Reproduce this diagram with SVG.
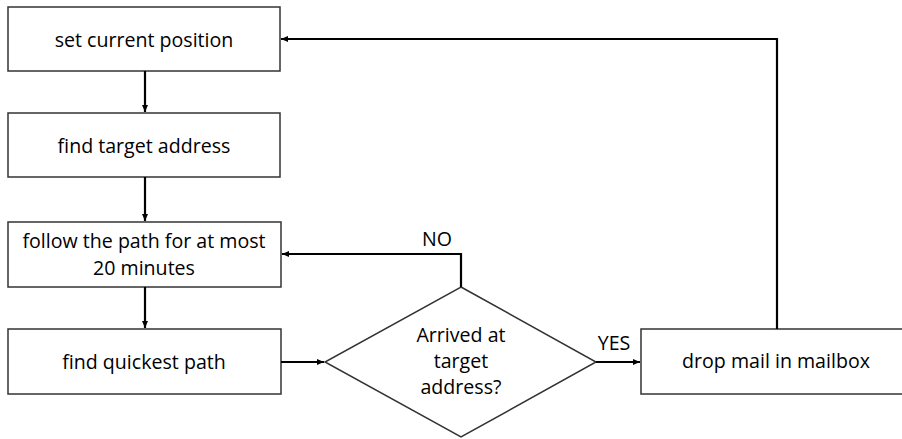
<svg xmlns="http://www.w3.org/2000/svg" width="902" height="439" viewBox="0 0 902 439">
<style>
.box{fill:#fff;stroke:#333;stroke-width:1.5}
.t{font-family:"Open Sans","Liberation Sans",sans-serif;font-size:19.6px;fill:#000;text-anchor:middle}
.c{fill:none;stroke:#000;stroke-width:2.2}
</style>
<defs>
<marker id="ah" markerWidth="8" markerHeight="8" refX="7" refY="4" orient="auto" markerUnits="userSpaceOnUse">
<path d="M0,1 L7,4 L0,7 Z" fill="#000"/>
</marker>
</defs>
<rect width="902" height="439" fill="#fff"/>
<g id="n1"><rect class="box" x="8" y="7" width="272" height="64"/><text class="t" x="144" y="47">set current position</text></g>
<g id="n2"><rect class="box" x="8" y="113" width="272" height="64"/><text class="t" x="144" y="153">find target address</text></g>
<g id="n3"><rect class="box" x="8" y="222" width="273" height="65"/><text class="t" x="144" y="248">follow the path for at most</text><text class="t" x="144" y="275">20 minutes</text></g>
<g id="n4"><rect class="box" x="8" y="329" width="273" height="65"/><text class="t" x="144" y="369">find quickest path</text></g>
<g id="n5"><path class="box" d="M461,287 L596,362 L461,437 L325,362 Z"/><text class="t" x="461" y="342">Arrived at</text><text class="t" x="461" y="368">target</text><text class="t" x="461" y="394">address?</text></g>
<g id="n6"><rect class="box" x="641" y="329" width="262" height="65"/><text class="t" x="776" y="368">drop mail in mailbox</text></g>
<g id="connectors">
<path class="c" d="M145,71 V112" marker-end="url(#ah)"/>
<path class="c" d="M145,177 V221" marker-end="url(#ah)"/>
<path class="c" d="M145,287 V328" marker-end="url(#ah)"/>
<path class="c" d="M281,362 H324" marker-end="url(#ah)"/>
<path class="c" d="M461,287 V254 H282" marker-end="url(#ah)"/>
<path class="c" d="M596,362 H640" marker-end="url(#ah)"/>
<path class="c" d="M777,329 V39 H281" marker-end="url(#ah)"/>
<text class="t" x="437" y="246">NO</text>
<text class="t" x="614" y="350">YES</text>
</g>
</svg>
